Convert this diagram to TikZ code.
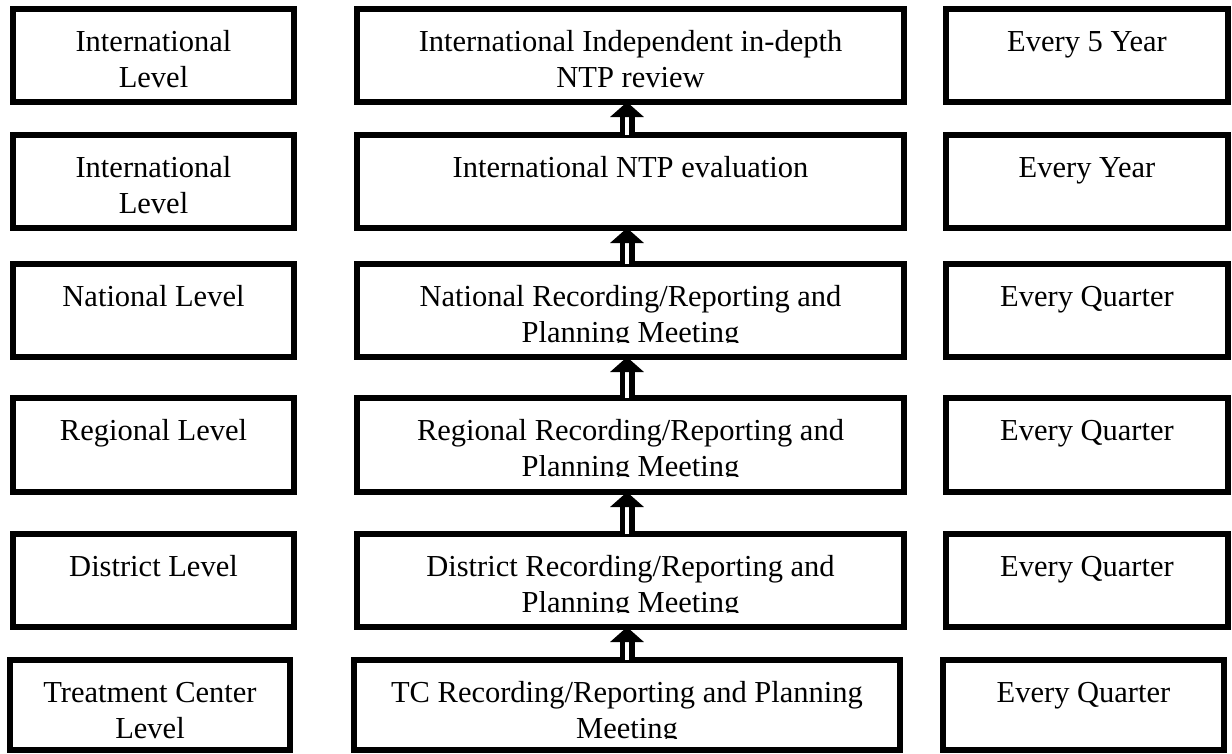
\documentclass[tikz,border=0pt]{standalone}
\usepackage{fontspec}
\setmainfont{Liberation Serif}
\usepackage{trimclip}
\usetikzlibrary{arrows.meta}
\newcommand{\celltext}[3]{\parbox[c][#2][t]{#1}{\centering\rule{0pt}{42pt}#3}}
\newcommand{\cutline}[1]{\clipbox{0pt {\depth} 0pt 0pt}{#1}}
\tikzset{
	cell/.style={draw, line width=6pt, inner sep=0pt, outer sep=0pt, anchor=north west, font=\fontsize{30.5pt}{36.5pt}\selectfont},
	uparrow/.style={line width=5.5pt, double=white, double distance=4pt, -{Triangle[width=33pt,length=15pt]}}
}
\begin{document}
\begin{tikzpicture}[x=1pt, y=-1pt]
			\useasboundingbox (0,0) rectangle (1232,753);
			\node[cell] (l1) at (13,9) {\celltext{281pt}{93pt}{International\\Level}};
			\node[cell] (l2) at (13,135) {\celltext{281pt}{93pt}{International\\Level}};
			\node[cell] (l3) at (13,264) {\celltext{281pt}{93pt}{National Level}};
			\node[cell] (l4) at (13,398) {\celltext{281pt}{94pt}{Regional Level}};
			\node[cell] (l5) at (13,534) {\celltext{281pt}{93pt}{District Level}};
			\node[cell] (l6) at (10,660) {\celltext{280pt}{90pt}{Treatment Center\\Level}};
			\node[cell] (m1) at (357,9) {\celltext{547pt}{93pt}{International Independent in-depth\\NTP review}};
			\node[cell] (m2) at (357,135) {\celltext{547pt}{93pt}{International NTP evaluation}};
			\node[cell] (m3) at (357,264) {\celltext{547pt}{93pt}{National Recording/Reporting and\\\cutline{Planning Meeting}}};
			\node[cell] (m4) at (357,398) {\celltext{547pt}{94pt}{Regional Recording/Reporting and\\\cutline{Planning Meeting}}};
			\node[cell] (m5) at (357,534) {\celltext{547pt}{93pt}{District Recording/Reporting and\\\cutline{Planning Meeting}}};
			\node[cell] (m6) at (354,660) {\celltext{546pt}{90pt}{TC Recording/Reporting and Planning\\\cutline{Meeting}}};
			\node[cell] (r1) at (946,9) {\celltext{282pt}{93pt}{Every 5 Year}};
			\node[cell] (r2) at (946,135) {\celltext{282pt}{93pt}{Every Year}};
			\node[cell] (r3) at (946,264) {\celltext{282pt}{93pt}{Every Quarter}};
			\node[cell] (r4) at (946,398) {\celltext{282pt}{94pt}{Every Quarter}};
			\node[cell] (r5) at (946,534) {\celltext{282pt}{93pt}{Every Quarter}};
			\node[cell] (r6) at (943,660) {\celltext{281pt}{90pt}{Every Quarter}};
			\draw[uparrow] (m6.north) -- (m6.north |- m5.south);
			\draw[uparrow] (m6.north |- m5.north) -- (m6.north |- m4.south);
			\draw[uparrow] (m6.north |- m4.north) -- (m6.north |- m3.south);
			\draw[uparrow] (m6.north |- m3.north) -- (m6.north |- m2.south);
			\draw[uparrow] (m6.north |- m2.north) -- (m6.north |- m1.south);
		\end{tikzpicture}
\end{document}
